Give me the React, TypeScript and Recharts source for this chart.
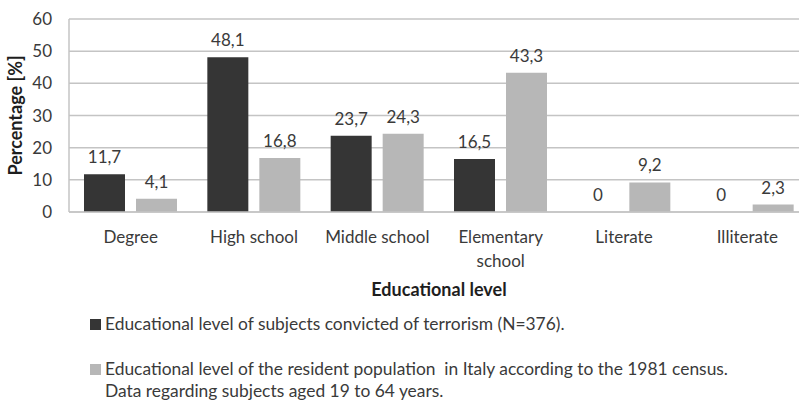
import { BarChart, Bar, XAxis, YAxis, CartesianGrid, Legend, LabelList, Text } from "recharts";

const categories = ["Degree", "High school", "Middle school", "Elementary school", "Literate", "Illiterate"];
const convicted = [11.7, 48.1, 23.7, 16.5, 0, 0];
const census = [4.1, 16.8, 24.3, 43.3, 9.2, 2.3];
const yTicks = [0, 10, 20, 30, 40, 50, 60];

const convictedName = "Educational level of subjects convicted of terrorism (N=376).";
const censusName =
  "Educational level of the resident population  in Italy according to the 1981 census.\nData regarding subjects aged 19 to 64 years.";

const data = categories.map((level, i) => ({
  level,
  convicted: convicted[i],
  census: census[i],
}));

const FONT = "Lato, 'Open Sans', sans-serif";
const TEXT = "#3a3a3a";
const DARK = "#353535";
const LIGHT = "#b7b7b7";
const GRID = "#c4c4c4";
const SIZE = 17;

const comma = (v: number) => String(v).replace(".", ",");

// value above each bar, drawn even when the bar has no height
const ValueLabel = (props: any) => {
  const { x, y, width, height, value } = props;
  const top = Math.min(y, y + height);
  return (
    <text
      x={x + width / 2}
      y={top - 11}
      textAnchor="middle"
      fill={TEXT}
      fontSize={SIZE}
      fontFamily={FONT}
    >
      {comma(value)}
    </text>
  );
};

const CategoryTick = (props: any) => {
  const { x, y, payload } = props;
  return (
    <Text
      x={x}
      y={y}
      width={112}
      textAnchor="middle"
      verticalAnchor="start"
      lineHeight={24}
      fill={TEXT}
      fontSize={SIZE}
      fontFamily={FONT}
    >
      {payload.value}
    </Text>
  );
};

const YTitle = (props: any) => {
  const { viewBox } = props;
  const cx = 15;
  const cy = viewBox.y + viewBox.height / 2;
  return (
    <text
      x={cx}
      y={cy}
      transform={`rotate(-90, ${cx}, ${cy})`}
      textAnchor="middle"
      dominantBaseline="central"
      fill="#1e1e1e"
      fontSize={18}
      fontWeight={700}
      fontFamily={FONT}
    >
      Percentage [%]
    </text>
  );
};

const LegendBox = (props: any) => {
  const items = props.payload || [];
  return (
    <div style={{ fontFamily: FONT, fontSize: 17.4, color: TEXT, lineHeight: "22px" }}>
      {items.map((item: any, i: number) => (
        <div
          key={i}
          style={{ display: "flex", alignItems: "flex-start", marginTop: i === 0 ? 2 : 23 }}
        >
          <span
            style={{
              width: 11,
              height: 11,
              background: item.color,
              marginTop: 6,
              marginRight: 4,
              flex: "none",
            }}
          />
          <span style={{ whiteSpace: "pre-wrap" }}>{item.value}</span>
        </div>
      ))}
    </div>
  );
};

export default function App() {
  return (
    <div
      style={{
        position: "fixed",
        left: 0,
        top: 0,
        width: 799,
        height: 401,
        overflow: "hidden",
        background: "#fff",
      }}
    >
      <BarChart
        width={830}
        height={401}
        data={data}
        margin={{ top: 19, right: 21, left: 0, bottom: 0 }}
        barSize={41}
        barGap={11}
      >
        <CartesianGrid vertical={false} stroke={GRID} strokeWidth={1.5} />
        <XAxis
          dataKey="level"
          height={99}
          interval={0}
          axisLine={{ stroke: GRID, strokeWidth: 1.5 }}
          tickLine={false}
          tickMargin={13}
          tick={<CategoryTick />}
          label={{
            value: "Educational level",
            position: "insideBottom",
            offset: 15,
            fill: "#1e1e1e",
            fontSize: 18,
            fontWeight: 700,
            fontFamily: FONT,
          }}
        />
        <YAxis
          width={69}
          domain={[0, 60]}
          ticks={yTicks}
          interval={0}
          axisLine={{ stroke: GRID, strokeWidth: 1.5 }}
          tickLine={false}
          tickSize={8}
          tickMargin={9}
          tick={{ fill: TEXT, fontSize: SIZE, fontFamily: FONT }}
          label={<YTitle />}
        />
        <Legend
          verticalAlign="bottom"
          align="left"
          content={<LegendBox />}
          wrapperStyle={{ left: 90, width: 720, height: 90 }}
        />
        <Bar
          dataKey="convicted"
          name={convictedName}
          fill={DARK}
          minPointSize={0.01}
          isAnimationActive={false}
        >
          <LabelList dataKey="convicted" content={<ValueLabel />} />
        </Bar>
        <Bar
          dataKey="census"
          name={censusName}
          fill={LIGHT}
          minPointSize={0.01}
          isAnimationActive={false}
        >
          <LabelList dataKey="census" content={<ValueLabel />} />
        </Bar>
      </BarChart>
    </div>
  );
}
